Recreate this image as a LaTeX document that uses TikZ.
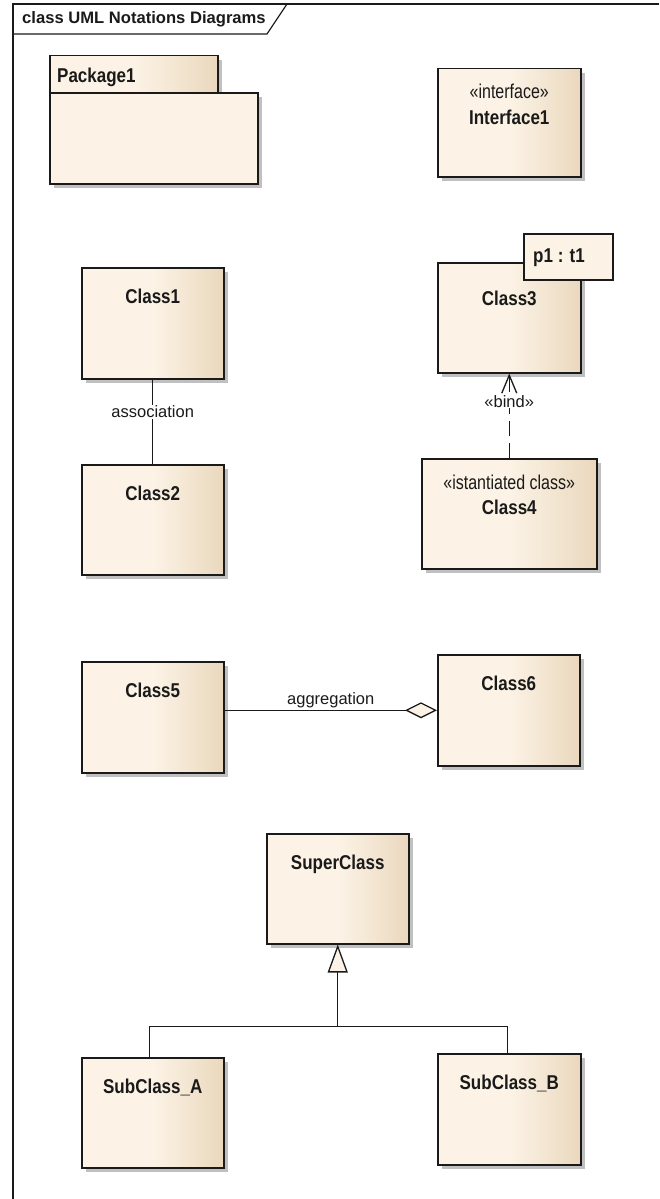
\documentclass[tikz,border=0pt]{standalone}
\usepackage{fontspec}
\setmainfont{Liberation Sans}
\newfontfamily\clsfont[FakeStretch=0.85]{Liberation Sans}
\newfontfamily\sterfont[FakeStretch=0.8]{Liberation Sans}
\usetikzlibrary{arrows.meta,shadows,calc}
\definecolor{cL}{RGB}{252,243,230}
\definecolor{cR}{RGB}{234,216,189}
\definecolor{shd}{RGB}{192,192,192}
\definecolor{ink}{RGB}{26,26,26}
\tikzset{
 umlbox/.style={draw=ink, line width=1.5pt, rectangle, inner sep=0pt, anchor=north west,
   left color=cL, right color=cR, middle color=cL,
   drop shadow={shadow xshift=4.5pt, shadow yshift=-4.5pt, fill=shd, opacity=1}},
 pkgbody/.style={draw=ink, line width=1.5pt, rectangle, inner sep=0pt, anchor=north west,
   fill=cL, drop shadow={shadow xshift=4.5pt, shadow yshift=-4.5pt, fill=shd, opacity=1}},
 plainbox/.style={draw=ink, line width=1.5pt, rectangle, inner sep=0pt, anchor=north west, fill=cL},
 clsname/.style={font=\clsfont\bfseries\fontsize{20pt}{24pt}\selectfont, text=ink, anchor=base, inner sep=0pt},
 stereo/.style={font=\sterfont\fontsize{20pt}{24pt}\selectfont, text=ink, anchor=base, inner sep=0pt},
 conlabel/.style={font=\fontsize{16.5pt}{20pt}\selectfont, text=ink, inner sep=1pt},
 conn/.style={draw=ink, line width=1.3pt},
 framestyle/.style={draw=ink, line width=1.2pt},
}
\begin{document}
\begin{tikzpicture}[x=1pt,y=-1pt]
\useasboundingbox (0,0) rectangle (659,1199);
% frame
\draw[framestyle] (13,1199) -- (13,4) -- (659,4);
\draw[framestyle] (13,34) -- (267,34) -- (287,4);
\node[font=\bfseries\fontsize{16.6pt}{19pt}\selectfont, text=ink, anchor=base west, inner sep=0pt] (title) at (22,24) {class UML Notations Diagrams};
% package
\node[umlbox, minimum width=168pt, minimum height=37pt] (pkgtab) at (49,55) {};
\node[pkgbody, minimum width=208pt, minimum height=91pt] (pkg) at (49,92) {};
\node[clsname, anchor=base west] (pkgt) at (57,82) {Package1};
% interface
\node[umlbox, minimum width=143pt, minimum height=108pt] (if1) at (437,68) {};
\node[stereo] (if1s) at ([yshift=-31pt]if1.north) {«interface»};
\node[clsname] (if1t) at ([yshift=-56pt]if1.north) {Interface1};
% class1 / class2
\node[umlbox, minimum width=142pt, minimum height=111pt] (c1) at (81,267) {};
\node[clsname] (c1t) at ([yshift=-36pt]c1.north) {Class1};
\node[umlbox, minimum width=142pt, minimum height=110pt] (c2) at (81,464) {};
\node[clsname] (c2t) at ([yshift=-36pt]c2.north) {Class2};
\draw[conn] (c1.south) -- node[conlabel, pos=0.38, fill=white] (assoc) {association} (c2.north);
% class3 / class4
\node[umlbox, minimum width=143pt, minimum height=110pt] (c3) at (437,262) {};
\node[clsname] (c3t) at ([yshift=-43pt]c3.north) {Class3};
\node[plainbox, minimum width=89pt, minimum height=46pt] (tpl) at (523,233) {};
\node[clsname, anchor=base west] (tplt) at (533,262) {p1 : t1};
\node[umlbox, minimum width=175pt, minimum height=110pt] (c4) at (421,458) {};
\node[stereo] (c4s) at ([yshift=-31pt]c4.north) {«istantiated class»};
\node[clsname] (c4t) at ([yshift=-56pt]c4.north) {Class4};
\draw[conn, dash pattern=on 15pt off 7pt, -{Straight Barb[length=18pt,width=15pt]}] (c4.north) -- node[conlabel, pos=0.67, fill=white] (bind) {«bind»} (c3.south);
% class5 / class6
\node[umlbox, minimum width=142pt, minimum height=111pt] (c5) at (81,661) {};
\node[clsname] (c5t) at ([yshift=-36pt]c5.north) {Class5};
\node[umlbox, minimum width=142pt, minimum height=111pt] (c6) at (437,654) {};
\node[clsname] (c6t) at ([yshift=-36pt]c6.north) {Class6};
\draw[conn, -{Diamond[length=32pt,width=16pt,fill=cL]}] (c5.east |- c6.west) -- node[conlabel, midway, above=1pt] (aggr) {aggregation} (c6.west);
% generalization
\node[umlbox, minimum width=142pt, minimum height=110pt] (sup) at (266,833) {};
\node[clsname] (supt) at ([yshift=-36pt]sup.north) {SuperClass};
\node[umlbox, minimum width=142pt, minimum height=110pt] (sa) at (81,1057) {};
\node[clsname] (sat) at ([yshift=-36pt]sa.north) {SubClass\_A};
\node[umlbox, minimum width=143pt, minimum height=111pt] (sb) at (437,1053) {};
\node[clsname] (sbt) at ([yshift=-36pt]sb.north) {SubClass\_B};
\coordinate (jn) at ([yshift=-82pt]sup.south);
\draw[conn] ([xshift=-3pt]sa.north) |- (jn);
\draw[conn] ([xshift=-2pt]sb.north) |- (jn);
\draw[conn, -{Triangle[length=28pt,width=20pt,fill=cL]}] (jn) -- (sup.south);
\end{tikzpicture}
\end{document}
